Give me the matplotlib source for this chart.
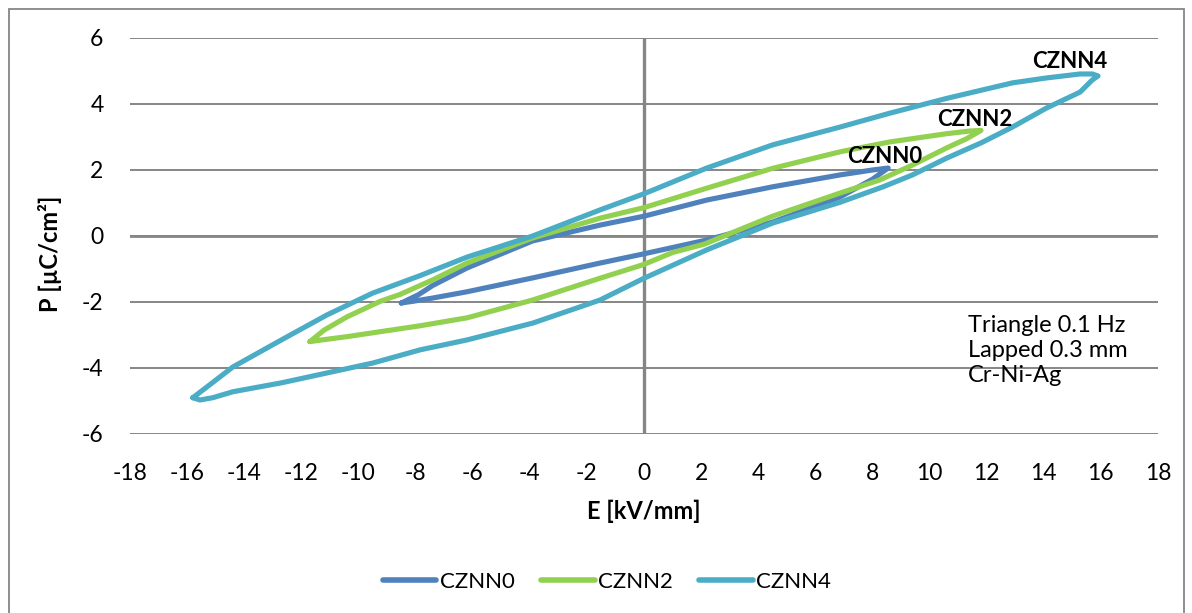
import matplotlib
matplotlib.use("Agg")
from matplotlib import pyplot as plt
from matplotlib.patches import Rectangle

plt.rcParams['font.family'] = ['Lato', 'DejaVu Sans']
plt.rcParams['axes.unicode_minus'] = False

# hysteresis loops: negative tip -> upper branch -> positive tip -> lower branch
czNN0_E = [-8.5, -7.9, -7.4, -6.2, -3.9, -1.54, 0.0, 2.2, 4.5, 6.86, 8.0, 8.55,
           8.0, 6.86, 4.5, 2.2, 0.0, -1.54, -3.9, -6.2, -7.4, -8.1, -8.5]
czNN0_P = [-2.03, -1.78, -1.5, -0.97, -0.15, 0.33, 0.6, 1.09, 1.49, 1.85, 2.0, 2.06,
           1.72, 1.18, 0.42, -0.12, -0.54, -0.82, -1.27, -1.69, -1.88, -1.98, -2.03]

czNN2_E = [-11.7, -11.2, -10.4, -9.24, -8.54, -7.4, -6.2, -3.9, -1.54, 0.0, 2.2, 4.5, 6.86, 8.6,
           10.6, 11.4, 11.8,
           11.3, 10.6, 9.4, 8.26, 6.86, 4.5, 2.1, 1.0, 0.0, -1.54, -3.9, -6.2, -7.84, -9.24, -10.4,
           -11.2, -11.7]
czNN2_P = [-3.2, -2.85, -2.45, -1.98, -1.77, -1.33, -0.82, -0.06, 0.54, 0.86, 1.45, 2.05, 2.55, 2.85,
           3.1, 3.18, 3.2,
           2.95, 2.67, 2.15, 1.7, 1.3, 0.6, -0.25, -0.5, -0.86, -1.28, -1.94, -2.48, -2.72, -2.9, -3.05,
           -3.14, -3.2]

czNN4_E = [-15.8, -15.3, -14.4, -12.7, -11.1, -9.5, -7.84, -6.2, -3.9, -1.54, 0.0, 2.2, 4.5, 6.86,
           8.6, 10.6, 12.9, 14.1, 15.27, 15.7, 15.9,
           15.7, 15.27, 14.1, 12.9, 11.8, 10.6, 9.4, 8.4, 6.86, 4.5, 2.2, 0.0, -1.54, -3.9, -6.2,
           -7.84, -9.5, -11.1, -12.7, -14.4, -15.1, -15.55, -15.8]
czNN4_P = [-4.9, -4.57, -3.97, -3.15, -2.39, -1.73, -1.2, -0.64, 0.0, 0.79, 1.28, 2.06, 2.76, 3.3,
           3.72, 4.17, 4.64, 4.79, 4.91, 4.91, 4.85,
           4.73, 4.36, 3.88, 3.3, 2.82, 2.36, 1.85, 1.5, 1.02, 0.39, -0.42, -1.28, -1.94, -2.64, -3.15,
           -3.45, -3.85, -4.15, -4.45, -4.72, -4.9, -4.97, -4.9]

names = ["CZNN0", "CZNN2", "CZNN4"]
colors = ["#4F81BD", "#92D050", "#4BACC6"]
# where the bold name sits next to each loop tip
labelE = [8.44, 11.6, 14.9]
labelP = [2.42, 3.52, 5.3]

xTicks = list(range(-18, 19, 2))
yTicks = list(range(-6, 7, 2))
note = "Triangle 0.1 Hz\nLapped 0.3 mm\nCr-Ni-Ag"

W, H = 1192, 613
gridCol = "#868686"

fig = plt.figure(figsize=(W / 100, H / 100), dpi=100)
ax = fig.add_axes([130 / W, 1 - 434 / H, (1158 - 130) / W, (434 - 38) / H])

# outer chart border like the excel chart area
fig.patches.append(Rectangle((9 / W, -0.05), (1184 - 9) / W, 1 - 9 / H + 0.05,
                             transform=fig.transFigure, fill=False, ec=gridCol, lw=1.3))

for y in yTicks:
    ax.axhline(y, color=gridCol, lw=1.4, zorder=1)
ax.axhline(0, color=gridCol, lw=2.0, zorder=1)
ax.axvline(0, color=gridCol, lw=2.4, zorder=1)

series = [(czNN0_E, czNN0_P), (czNN2_E, czNN2_P), (czNN4_E, czNN4_P)]
for (e, p), name, col in zip(series, names, colors):
    ax.plot(e, p, color=col, lw=3.7, label=name, solid_joinstyle="round",
            solid_capstyle="round", zorder=3)

for name, x, y in zip(names, labelE, labelP):
    ax.text(x, y, name, fontsize=16, fontweight="bold", ha="center", va="center", zorder=4)

ax.text(11.34, -2.39, note, fontsize=17, ha="left", va="top", linespacing=1.25)

ax.set_xlim(-18, 18)
ax.set_ylim(-6, 6)
ax.set_xticks(xTicks)
ax.set_yticks(yTicks)
ax.tick_params(length=0, labelsize=16.5)
ax.tick_params(axis="x", pad=21)
ax.tick_params(axis="y", pad=19)
for s in ax.spines.values():
    s.set_visible(False)

ax.set_xlabel("E [kV/mm]", fontsize=17, fontweight="bold", labelpad=11)
fig.text(50 / W, 1 - 254 / H, "P [µC/cm²]", fontsize=17, fontweight="bold",
         rotation=90, ha="center", va="center")

leg = fig.legend(loc="center", bbox_to_anchor=(607 / W, 1 - 582 / H), ncol=3, frameon=False,
                 fontsize=16, handlelength=2.4, handletextpad=0.15, columnspacing=1.2)
for ln in leg.get_lines():
    ln.set_linewidth(4)
    ln.set_solid_capstyle("round")

fig.savefig("out.png", dpi=100)
